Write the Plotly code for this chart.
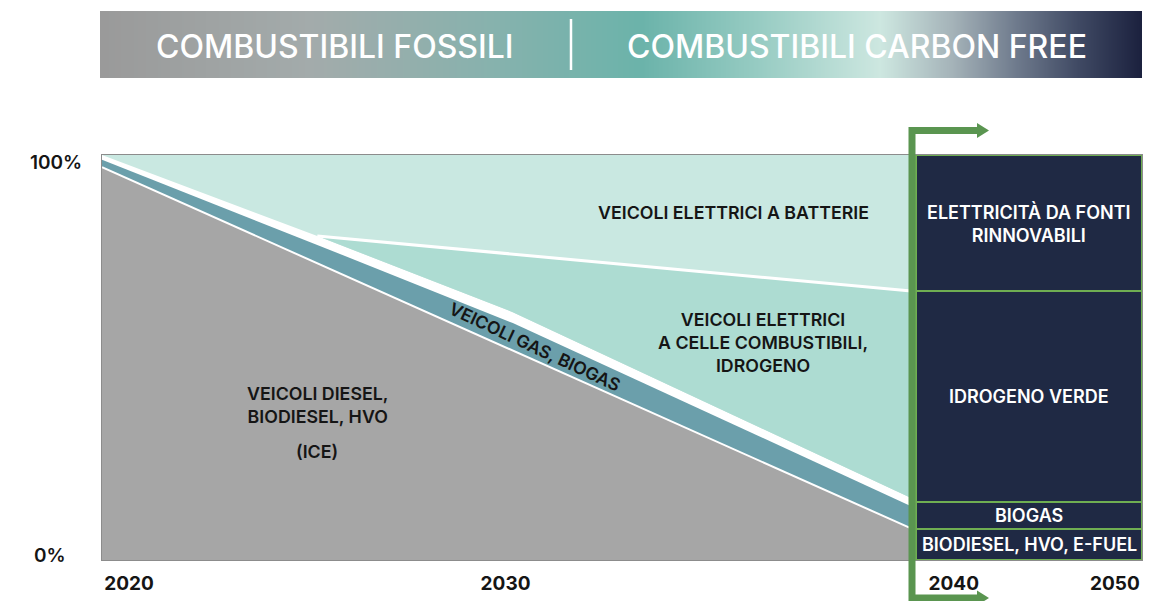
import plotly.graph_objects as go

# ---------------- DATA ----------------
# timeline positions (share of the chart width, 0-100) of the stacked-area break points
x_pos = [0, 20.7, 39.5, 77.8]
# cumulative shares (%) of each vehicle technology
ice_top = [97.0, 73.3, 51.7, 7.8]          # diesel / biodiesel / HVO (ICE)
gas_top = [98.8, 77.8, 58.5, 13.3]         # + gas / biogas vehicles
fcev_bottom = [100.0, 80.0, 61.2, 15.3]    # lower edge of electric vehicle areas
bev_split_x = [20.7, 77.8]
bev_split_y = [80.0, 66.4]                 # battery vs fuel-cell boundary

# 2040-2050 fuel mix (stacked, %)
fuel_labels = ["BIODIESEL, HVO, E-FUEL", "BIOGAS", "IDROGENO VERDE",
               "ELETTRICITÀ DA FONTI<br>RINNOVABILI"]
fuel_values = [7.7, 6.7, 52.0, 33.6]
fuel_x = 89.15
fuel_width = 21.7

tick_pos = [2.6, 38.8, 81.9, 97.4]
tick_text = ["2020", "2030", "2040", "2050"]

header_left = "COMBUSTIBILI FOSSILI"
header_right = "COMBUSTIBILI CARBON FREE"

# ---------------- STYLE ----------------
W, H = 1168, 601
FONT = "Inter"
C_GRAY = "#a6a6a6"
C_GAS = "#6b9fab"
C_BEV = "#c9e8e1"
C_FCEV = "#addcd2"
C_NAVY = "#1f2944"
C_ARROW = "#5a9550"
C_DIV = "#6fae52"
C_TXT = "#151515"

def px(x):
    return x / W

def py(y):
    return 1 - y / H

fig = go.Figure()

# battery EV area (everything above the white gap)
fig.add_trace(go.Scatter(
    x=x_pos + [x_pos[-1], x_pos[0]], y=fcev_bottom + [100, 100],
    fill="toself", fillcolor=C_BEV, mode="lines", line=dict(width=0),
    hoverinfo="skip", showlegend=False))
# fuel-cell EV area
fig.add_trace(go.Scatter(
    x=x_pos[1:] + bev_split_x[::-1], y=fcev_bottom[1:] + bev_split_y[::-1],
    fill="toself", fillcolor=C_FCEV, mode="lines", line=dict(width=0),
    hoverinfo="skip", showlegend=False))
# gas / biogas band
fig.add_trace(go.Scatter(
    x=x_pos + x_pos[::-1], y=gas_top + ice_top[::-1],
    fill="toself", fillcolor=C_GAS, mode="lines", line=dict(width=0),
    hoverinfo="skip", showlegend=False))
# ICE area
fig.add_trace(go.Scatter(
    x=x_pos + [x_pos[-1], x_pos[0]], y=ice_top + [0, 0],
    fill="toself", fillcolor=C_GRAY, mode="lines", line=dict(width=0),
    hoverinfo="skip", showlegend=False))
# white separators
fig.add_trace(go.Scatter(
    x=x_pos, y=ice_top, mode="lines", line=dict(color="white", width=2),
    hoverinfo="skip", showlegend=False))
fig.add_trace(go.Scatter(
    x=bev_split_x, y=bev_split_y, mode="lines", line=dict(color="white", width=3),
    hoverinfo="skip", showlegend=False))

# fuel mix stacked bars
for lab, val in zip(fuel_labels, fuel_values):
    fig.add_trace(go.Bar(
        x=[fuel_x], y=[val], width=fuel_width,
        marker=dict(color=C_NAVY, line=dict(color=C_DIV, width=2)),
        hoverinfo="skip", showlegend=False))

# header gradient
N = 200
fig.add_trace(go.Heatmap(
    z=[list(range(N + 1))], x=list(range(N + 1)), y=[0],
    colorscale=[[0.0, "#9a9a9a"], [0.2, "#a3abab"], [0.38, "#86b2ad"], [0.52, "#6bb3aa"],
                [0.63, "#96cbc2"], [0.75, "#cde7e0"], [0.82, "#a4b2b8"], [0.88, "#6f7b8d"],
                [0.94, "#404a64"], [1.0, "#1c223f"]],
    zsmooth="best", showscale=False, hoverinfo="skip", xaxis="x2", yaxis="y2"))

annotations = []
# panel labels at the middle of each stacked segment
cum = 0
for lab, val in zip(fuel_labels, fuel_values):
    annotations.append(dict(x=fuel_x, y=cum + val / 2, xref="x", yref="y", text=lab,
                            showarrow=False,
                            font=dict(family=FONT, size=18, color="white", weight=600)))
    cum += val

area_txt = dict(family=FONT, size=17.8, color=C_TXT, weight=600)
annotations += [
    dict(x=60.7, y=85.7, text="VEICOLI ELETTRICI A BATTERIE", showarrow=False, font=area_txt),
    dict(x=63.6, y=53.8, text="VEICOLI ELETTRICI<br>A CELLE COMBUSTIBILI,<br>IDROGENO",
         showarrow=False, font=area_txt),
    dict(x=20.7, y=38.3, text="VEICOLI DIESEL,<br>BIODIESEL, HVO", showarrow=False, font=area_txt),
    dict(x=20.7, y=26.7, text="(ICE)", showarrow=False, font=area_txt),
    dict(x=41.6, y=52.8, text="VEICOLI GAS, BIOGAS", showarrow=False, textangle=25,
         font=dict(family=FONT, size=17.5, color=C_TXT, weight=600)),
]
for a in annotations[-5:]:
    a.update(xref="x", yref="y")

# y labels
annotations += [
    dict(x=px(56), y=100, xref="paper", yref="y", yshift=-7, text="100%", showarrow=False,
         xanchor="center", yanchor="middle",
         font=dict(family=FONT, size=19, color=C_TXT, weight=600)),
    dict(x=px(50), y=0, xref="paper", yref="y", yshift=5, text="0%", showarrow=False,
         xanchor="center", yanchor="middle",
         font=dict(family=FONT, size=19, color=C_TXT, weight=600)),
]
# header texts
hfont = dict(family=FONT, size=32, color="white", weight=500)
annotations += [
    dict(x=px(335), y=py(46), xref="paper", yref="paper", text=header_left, showarrow=False,
         xanchor="center", yanchor="middle", font=hfont),
    dict(x=px(857), y=py(46), xref="paper", yref="paper", text=header_right, showarrow=False,
         xanchor="center", yanchor="middle", font=hfont),
]

shapes = [
    # header divider
    dict(type="line", xref="paper", yref="paper", x0=px(571), x1=px(571), y0=py(19), y1=py(70),
         line=dict(color="white", width=2.5)),
    # green timeline arrow
    dict(type="line", xref="paper", yref="paper", x0=px(912), x1=px(912), y0=py(127), y1=py(605),
         line=dict(color=C_ARROW, width=7)),
    dict(type="line", xref="paper", yref="paper", x0=px(909), x1=px(979), y0=py(130.5), y1=py(130.5),
         line=dict(color=C_ARROW, width=7)),
    dict(type="path", xref="paper", yref="paper",
         path=f"M {px(977)},{py(123)} L {px(989)},{py(130.5)} L {px(977)},{py(138)} Z",
         fillcolor=C_ARROW, line=dict(width=0)),
    dict(type="line", xref="paper", yref="paper", x0=px(909), x1=px(979), y0=py(598), y1=py(598),
         line=dict(color=C_ARROW, width=7)),
    dict(type="path", xref="paper", yref="paper",
         path=f"M {px(977)},{py(590.5)} L {px(989)},{py(598)} L {px(977)},{py(605.5)} Z",
         fillcolor=C_ARROW, line=dict(width=0)),
]

fig.update_layout(
    width=W, height=H, margin=dict(l=0, r=0, t=0, b=0),
    paper_bgcolor="white", plot_bgcolor="white",
    barmode="stack", bargap=0,
    annotations=annotations, shapes=shapes,
    xaxis=dict(domain=[px(102), px(1142)], range=[0, 100], showgrid=False, zeroline=False,
               showline=True, mirror=True, linecolor="#8c8c8c", linewidth=1,
               tickvals=tick_pos, ticktext=tick_text, ticks="outside", ticklen=6,
               tickcolor="rgba(0,0,0,0)",
               tickfont=dict(family=FONT, size=19, color=C_TXT, weight=700)),
    yaxis=dict(domain=[py(560), py(155)], range=[0, 100], showgrid=False, zeroline=False,
               showline=True, mirror=True, linecolor="#8c8c8c", linewidth=1, showticklabels=False),
    xaxis2=dict(domain=[px(100), px(1142)], range=[-0.5, N + 0.5], visible=False, anchor="y2"),
    yaxis2=dict(domain=[py(78), py(11)], range=[-0.5, 0.5], visible=False, anchor="x2"),
)

fig.write_html("out.html", config={"displayModeBar": False},
               post_script="document.body.style.margin='0';document.body.style.padding='0';")
